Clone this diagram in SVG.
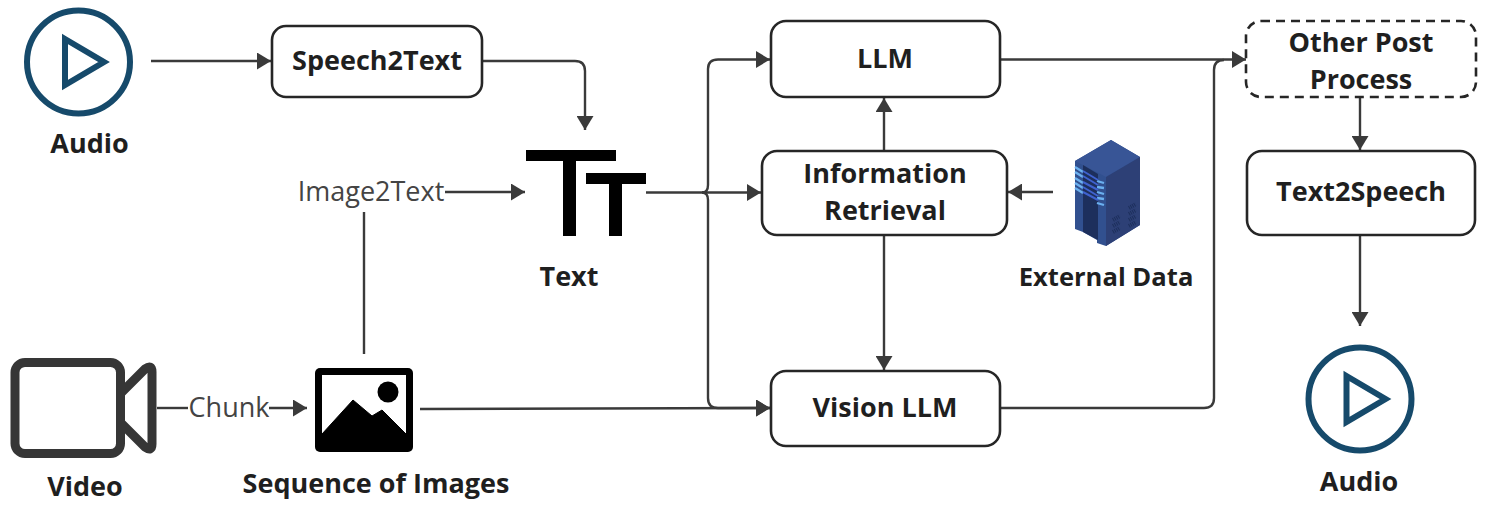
<svg xmlns="http://www.w3.org/2000/svg" width="1495" height="512" viewBox="0 0 1495 512">
<style>
text{font-family:"Open Sans","Noto Sans","Liberation Sans",sans-serif;text-anchor:middle}
.b{font-weight:700;font-size:27px;fill:#1f1f1f}
.l{font-size:27px;fill:#444}
.box{fill:#fff;stroke:#262626;stroke-width:2.6}
.c{fill:none;stroke:#3a3a3a;stroke-width:2.4}
.play{fill:none;stroke:#164a6b;stroke-width:6}
</style>
<defs>
<marker id="a" markerUnits="userSpaceOnUse" markerWidth="14" markerHeight="17" refX="14" refY="8.500" orient="auto"><path d="M0 0L14 8.500L0 17Z" fill="#3a3a3a"/></marker>
<g id="playicon"><circle cx="0" cy="0" r="51.500" class="play"/><path d="M-13.500-23L25.500 0L-13.500 23Z" class="play"/></g>
</defs>
<rect width="1495" height="512" fill="#fff"/>
<g id="connectors">
<path class="c" d="M151 61H271" marker-end="url(#a)"/>
<path class="c" d="M482 61H575Q585 61 585 71V130" marker-end="url(#a)"/>
<path class="c" d="M445 192H525" marker-end="url(#a)"/>
<path class="c" d="M364 212V354"/>
<path class="c" d="M157 408H188"/>
<path class="c" d="M269 408H307" marker-end="url(#a)"/>
<path class="c" d="M420 409L770 408" marker-end="url(#a)"/>
<path class="c" d="M646 192.500H761" marker-end="url(#a)"/>
<path class="c" d="M702 192.500Q708 192.500 708 185V69Q708 59.500 718 59.500H770" marker-end="url(#a)"/>
<path class="c" d="M702 192.500Q708 192.500 708 200V398Q708 408 718 408H770" marker-end="url(#a)"/>
<path class="c" d="M884 151V98" marker-end="url(#a)"/>
<path class="c" d="M884 235V370" marker-end="url(#a)"/>
<path class="c" d="M1053 192H1008" marker-end="url(#a)"/>
<path class="c" d="M1000 59.500H1246" marker-end="url(#a)"/>
<path class="c" d="M1000 408H1204Q1214 408 1214 398V70Q1214 60 1224 60"/>
<path class="c" d="M1360 98V150" marker-end="url(#a)"/>
<path class="c" d="M1360 235V326" marker-end="url(#a)"/>
</g>
<g id="audio-in"><use href="#playicon" x="78.500" y="62"/><text class="b" x="89.500" y="153">Audio</text></g>
<g id="speech2text"><rect class="box" x="272" y="26" width="210" height="71" rx="14"/><text class="b" x="377" y="70">Speech2Text</text></g>
<g id="text-node"><path d="M526 150H616V161H576V236H563V161H526ZM586 173H646V184H622V236H609V184H586Z" fill="#000"/><text class="b" x="569" y="286">Text</text></g>
<g id="image2text"><text class="l" x="371" y="201">Image2Text</text></g>
<g id="chunk"><text class="l" x="229" y="417">Chunk</text></g>
<g id="video"><rect x="15" y="362.500" width="105.500" height="91" rx="10" fill="none" stroke="#363636" stroke-width="9"/><path d="M121 393L145 369Q152 364 152 372V444Q152 452 145 447L121 423" fill="none" stroke="#363636" stroke-width="9" stroke-linejoin="round"/><text class="b" x="85" y="496">Video</text></g>
<g id="images"><rect x="315" y="368" width="98" height="84" rx="5" fill="#000"/><rect x="322" y="375" width="84" height="70" fill="#fff"/><circle cx="388" cy="392" r="10.500" fill="#000"/><path d="M322 434L353 400L372 416L382 410L406 434V446H322Z" fill="#000" stroke="#000" stroke-linejoin="round"/><text class="b" x="376" y="493">Sequence of Images</text></g>
<g id="llm"><rect class="box" x="771" y="21" width="229" height="76" rx="15"/><text class="b" x="885" y="68">LLM</text></g>
<g id="retrieval"><rect class="box" x="762" y="151" width="245" height="84" rx="15"/><text class="b" x="885" y="183">Information</text><text class="b" x="885" y="220">Retrieval</text></g>
<g id="vision"><rect class="box" x="771" y="371" width="229" height="75" rx="15"/><text class="b" x="885" y="417">Vision LLM</text></g>
<g id="external"><path d="M1075 161L1111 140L1140 157V225L1106 246L1097 243V240L1083 232L1075 229Z" fill="#31508f"/><path d="M1075 161L1111 140L1140 157L1106 177Z" fill="#385596"/><path d="M1106 177L1140 157V225L1106 246Z" fill="#2d4076"/><path d="M1083 165L1098 174V240L1083 232Z" fill="#1d2f5c"/><path d="M1075 167L1083 172M1075 172L1083 177M1075 178L1083 183M1075 183L1083 188M1075 188L1083 193M1097 181L1104 183M1097 187L1104 188M1097 192L1104 194M1097 198L1104 199M1097 203L1104 205" stroke="#6bb0ef" stroke-width="2.300" fill="none"/><path d="M1083 171L1098 180M1083 176L1098 185M1083 182L1098 190M1083 187L1098 196M1083 192L1098 200" stroke="#3f62cf" stroke-width="2" fill="none"/><path d="M1113 220L1120 216M1113 226L1120 222M1113 232L1120 228M1129 208L1136 204M1129 214L1136 210M1129 220L1136 216M1129 226L1136 222" stroke="#1d2f5c" stroke-width="4" stroke-dasharray="1 1" fill="none"/><text class="b" style="font-size:25.600px" x="1106" y="286">External Data</text></g>
<g id="post"><rect class="box" x="1246" y="21" width="230" height="76" rx="15" stroke-dasharray="9 6"/><text class="b" x="1361" y="52">Other Post</text><text class="b" x="1361" y="89">Process</text></g>
<g id="text2speech"><rect class="box" x="1247" y="151" width="228" height="84" rx="15"/><text class="b" x="1361" y="201">Text2Speech</text></g>
<g id="audio-out"><use href="#playicon" x="1360" y="399"/><text class="b" x="1359" y="491">Audio</text></g>
</svg>
